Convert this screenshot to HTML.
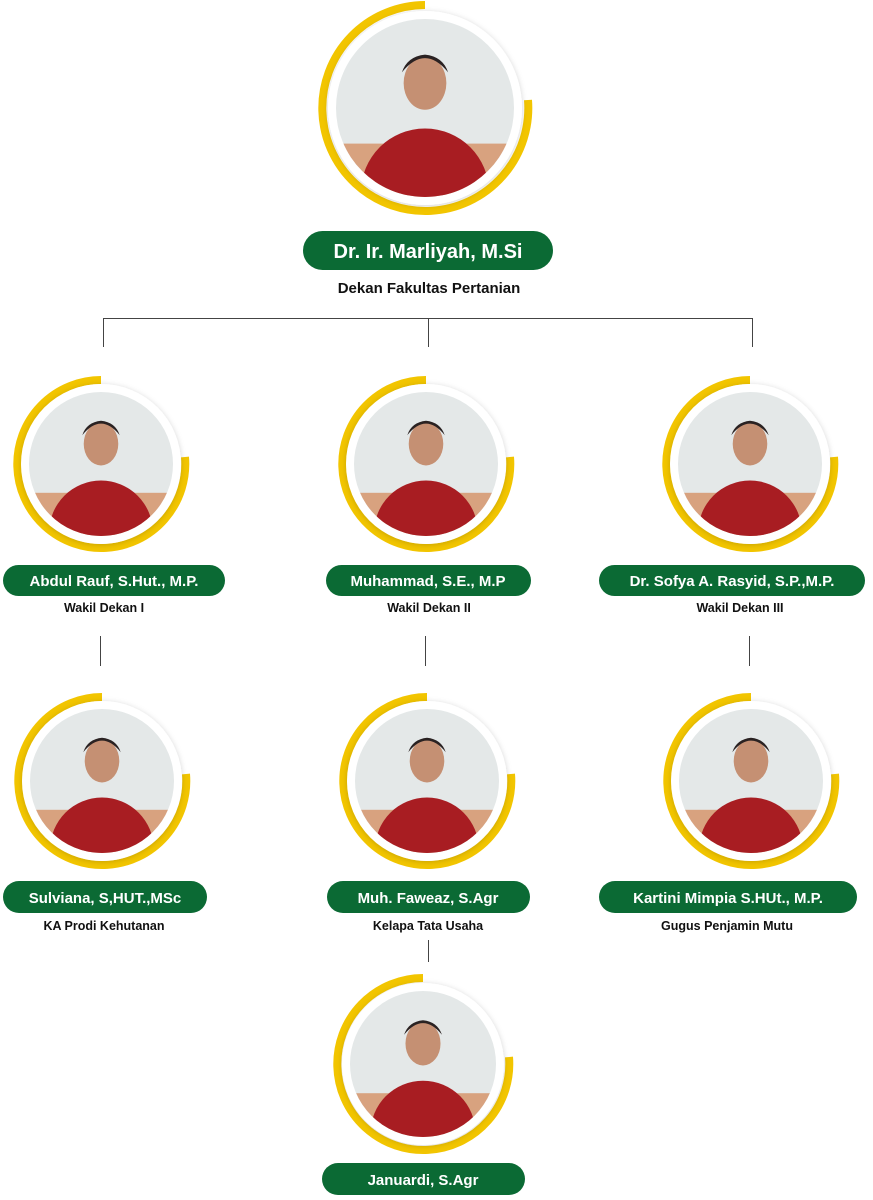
<!DOCTYPE html>
<html><head><meta charset="utf-8"><style>
html,body{margin:0;padding:0;background:#fff}
svg{display:block}
text{font-family:"Liberation Sans",sans-serif;font-weight:bold}
</style></head><body>
<svg width="873" height="1200" viewBox="0 0 873 1200" xmlns="http://www.w3.org/2000/svg" xmlns:xlink="http://www.w3.org/1999/xlink">
<defs>
<filter id="sh" x="-20%" y="-20%" width="140%" height="140%"><feDropShadow dx="0" dy="1" stdDeviation="3" flood-color="#000" flood-opacity="0.18"/></filter>
<g id="phg">
<rect x="-100" y="-100" width="200" height="200" fill="#e4e8e8"/>
<rect x="-100" y="40" width="200" height="60" fill="#d8a27f"/>
<ellipse cx="0" cy="95" rx="72" ry="72" fill="#a81d22"/>
<ellipse cx="0" cy="-28" rx="24" ry="30" fill="#c59073"/>
<path d="M-26,-40 Q0,-72 26,-40 Q20,-58 0,-60 Q-20,-58 -26,-40Z" fill="#2a2222"/>
</g>
<clipPath id="cc" clipPathUnits="userSpaceOnUse"><circle cx="0" cy="0" r="100"/></clipPath>
</defs>

<g stroke="#444" stroke-width="1" fill="none">
<path d="M103.5,347 V318.5 H752.5 V347 M428.5,318.5 V347"/>
<path d="M100.5,636 V666 M425.5,636 V666 M749.5,636 V666 M428.5,940 V962"/>
</g>

<path d="M425,5 A103,103 0 1 0 528,100" stroke="#f2c500" stroke-width="8" fill="none"/>
<circle cx="425" cy="108" r="97" fill="#fff" filter="url(#sh)"/>
<g transform="translate(425,108) scale(0.89)"><g clip-path="url(#cc)"><use xlink:href="#phg" href="#phg"/></g></g>

<path d="M101,380 A84,84 0 1 0 185,457" stroke="#f2c500" stroke-width="8" fill="none"/>
<circle cx="101" cy="464" r="80" fill="#fff" filter="url(#sh)"/>
<g transform="translate(101,464) scale(0.72)"><g clip-path="url(#cc)"><use xlink:href="#phg" href="#phg"/></g></g>

<path d="M426,380 A84,84 0 1 0 510,457" stroke="#f2c500" stroke-width="8" fill="none"/>
<circle cx="426" cy="464" r="80" fill="#fff" filter="url(#sh)"/>
<g transform="translate(426,464) scale(0.72)"><g clip-path="url(#cc)"><use xlink:href="#phg" href="#phg"/></g></g>

<path d="M750,380 A84,84 0 1 0 834,457" stroke="#f2c500" stroke-width="8" fill="none"/>
<circle cx="750" cy="464" r="80" fill="#fff" filter="url(#sh)"/>
<g transform="translate(750,464) scale(0.72)"><g clip-path="url(#cc)"><use xlink:href="#phg" href="#phg"/></g></g>

<path d="M102,697 A84,84 0 1 0 186,774" stroke="#f2c500" stroke-width="8" fill="none"/>
<circle cx="102" cy="781" r="80" fill="#fff" filter="url(#sh)"/>
<g transform="translate(102,781) scale(0.72)"><g clip-path="url(#cc)"><use xlink:href="#phg" href="#phg"/></g></g>

<path d="M427,697 A84,84 0 1 0 511,774" stroke="#f2c500" stroke-width="8" fill="none"/>
<circle cx="427" cy="781" r="80" fill="#fff" filter="url(#sh)"/>
<g transform="translate(427,781) scale(0.72)"><g clip-path="url(#cc)"><use xlink:href="#phg" href="#phg"/></g></g>

<path d="M751,697 A84,84 0 1 0 835,774" stroke="#f2c500" stroke-width="8" fill="none"/>
<circle cx="751" cy="781" r="80" fill="#fff" filter="url(#sh)"/>
<g transform="translate(751,781) scale(0.72)"><g clip-path="url(#cc)"><use xlink:href="#phg" href="#phg"/></g></g>

<path d="M423,978 A86,86 0 1 0 509,1057" stroke="#f2c500" stroke-width="8" fill="none"/>
<circle cx="423" cy="1064" r="81" fill="#fff" filter="url(#sh)"/>
<g transform="translate(423,1064) scale(0.73)"><g clip-path="url(#cc)"><use xlink:href="#phg" href="#phg"/></g></g>

<g fill="#0b6a34">
<rect x="303" y="231" width="250" height="39" rx="19.5"/>
<rect x="3" y="565" width="222" height="31" rx="15.5"/>
<rect x="326" y="565" width="205" height="31" rx="15.5"/>
<rect x="599" y="565" width="266" height="31" rx="15.5"/>
<rect x="3" y="881" width="204" height="32" rx="16"/>
<rect x="327" y="881" width="203" height="32" rx="16"/>
<rect x="599" y="881" width="258" height="32" rx="16"/>
<rect x="322" y="1163" width="203" height="32" rx="16"/>
</g>
<g fill="#fff" text-anchor="middle">
<text x="428" y="258" font-size="20">Dr. Ir. Marliyah, M.Si</text>
<text x="114" y="586" font-size="15">Abdul Rauf, S.Hut., M.P.</text>
<text x="428" y="586" font-size="15">Muhammad, S.E., M.P</text>
<text x="732" y="586" font-size="15">Dr. Sofya A. Rasyid, S.P.,M.P.</text>
<text x="105" y="903" font-size="15">Sulviana, S,HUT.,MSc</text>
<text x="428" y="903" font-size="15">Muh. Faweaz, S.Agr</text>
<text x="728" y="903" font-size="15">Kartini Mimpia S.HUt., M.P.</text>
<text x="423" y="1185" font-size="15">Januardi, S.Agr</text>
</g>
<g fill="#111" text-anchor="middle">
<text x="429" y="293" font-size="15">Dekan Fakultas Pertanian</text>
<text x="104" y="612" font-size="12.5">Wakil Dekan I</text>
<text x="429" y="612" font-size="12.5">Wakil Dekan II</text>
<text x="740" y="612" font-size="12.5">Wakil Dekan III</text>
<text x="104" y="930" font-size="12.5">KA Prodi Kehutanan</text>
<text x="428" y="930" font-size="12.5">Kelapa Tata Usaha</text>
<text x="727" y="930" font-size="12.5">Gugus Penjamin Mutu</text>
</g>
</svg>
</body></html>
